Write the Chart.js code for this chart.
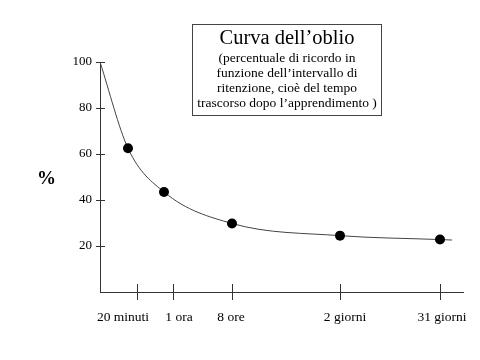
<!DOCTYPE html>
<html>
<head>
<meta charset="utf-8">
<script src="https://cdn.jsdelivr.net/npm/chart.js@4/dist/chart.umd.min.js"></script>
<style>
html,body{margin:0;padding:0;background:#fff;}
#wrap{width:480px;height:360px;}
</style>
</head>
<body>
<div id="wrap"><canvas id="c" width="480" height="360"></canvas></div>
<script>
// Intervalli di ritenzione (asse schematico, non proporzionale al tempo)
const categories = ['20 minuti', '1 ora', '8 ore', '2 giorni', '31 giorni'];
const categoryPositions = [37, 73, 132, 240, 340];   // tacche sull'asse
const labelPositions = [23, 79, 131, 245, 342];      // etichette (come nell'originale, non centrate)
// Curva: posizione lungo l'asse e percentuale di ricordo
const curvePositions = [0, 28, 64, 132, 240, 340, 352];
const retention = [100, 62.5, 43.5, 29.8, 24.5, 22.8, 22.6];
const measured = [false, true, true, true, true, true, false];
const yTicks = [20, 40, 60, 80, 100];
const titleText = 'Curva dell\u2019oblio';
const subtitleLines = [
  '(percentuale di ricordo in',
  'funzione dell\u2019intervallo di',
  'ritenzione, cio\u00e8 del tempo',
  'trascorso dopo l\u2019apprendimento )'
];
const yAxisTitle = '%';

const SERIF = '"Liberation Serif", "Times New Roman", serif';
const INK = '#333';

const decor = {
  id: 'decor',
  afterDraw(chart) {
    const ctx = chart.ctx, xs = chart.scales.x, ys = chart.scales.y;
    ctx.save();
    ctx.strokeStyle = INK;
    ctx.lineWidth = 1;
    yTicks.forEach(v => {
      const py = Math.round(ys.getPixelForValue(v)) + 0.5;
      ctx.beginPath(); ctx.moveTo(xs.left - 4, py); ctx.lineTo(xs.left + 5, py); ctx.stroke();
    });
    categoryPositions.forEach(v => {
      const px = Math.round(xs.getPixelForValue(v)) + 0.5;
      ctx.beginPath(); ctx.moveTo(px, ys.bottom - 8); ctx.lineTo(px, ys.bottom + 8); ctx.stroke();
    });
    // y axis title, unrotated
    ctx.fillStyle = '#000';
    ctx.font = 'bold 19px ' + SERIF;
    ctx.textAlign = 'center';
    ctx.textBaseline = 'middle';
    ctx.fillText(yAxisTitle, 46.5, 179);
    // title box
    ctx.fillStyle = '#fff';
    ctx.fillRect(192.5, 24.5, 189, 91);
    ctx.strokeStyle = '#444';
    ctx.strokeRect(192.5, 24.5, 189, 91);
    ctx.fillStyle = '#000';
    ctx.font = '20.5px ' + SERIF;
    ctx.fillText(titleText, 287, 39);
    ctx.font = '13.5px ' + SERIF;
    subtitleLines.forEach((t, i) => ctx.fillText(t, 287, 58 + i * 15));
    ctx.restore();
  }
};

new Chart(document.getElementById('c'), {
  type: 'line',
  data: {
    datasets: [{
      data: curvePositions.map((x, i) => ({ x: x, y: retention[i] })),
      borderColor: '#444',
      borderWidth: 1,
      cubicInterpolationMode: 'monotone',
      pointRadius: ctx => measured[ctx.dataIndex] ? 5 : 0,
      pointHoverRadius: ctx => measured[ctx.dataIndex] ? 5 : 0,
      pointBackgroundColor: '#000',
      pointBorderColor: '#000',
      pointBorderWidth: 0,
      clip: false,
      fill: false
    }]
  },
  options: {
    responsive: false,
    animation: false,
    events: [],
    layout: { padding: { left: 0, top: 62, right: 17, bottom: 0 } },
    plugins: { legend: { display: false }, tooltip: { enabled: false }, title: { display: false } },
    scales: {
      x: {
        type: 'linear', min: 0, max: 363,
        afterBuildTicks: s => { s.ticks = labelPositions.map(v => ({ value: v })); },
        afterFit: s => { s.height = 68; s.paddingLeft = 0; s.paddingRight = 0; },
        grid: { display: false, drawTicks: false },
        border: { display: true, color: INK, width: 1 },
        ticks: {
          autoSkip: false, maxRotation: 0, padding: 17, color: '#000',
          font: { family: SERIF, size: 13.5 },
          callback: v => categories[labelPositions.indexOf(v)]
        }
      },
      y: {
        type: 'linear', min: 0, max: 100,
        afterBuildTicks: s => { s.ticks = yTicks.map(v => ({ value: v })); },
        afterFit: s => { s.width = 100; s.paddingTop = 0; s.paddingBottom = 0; },
        grid: { display: false, drawTicks: false },
        border: { display: true, color: INK, width: 1 },
        ticks: { padding: 8, color: '#000', font: { family: SERIF, size: 13 } }
      }
    }
  },
  plugins: [decor]
});
</script>
</body>
</html>
